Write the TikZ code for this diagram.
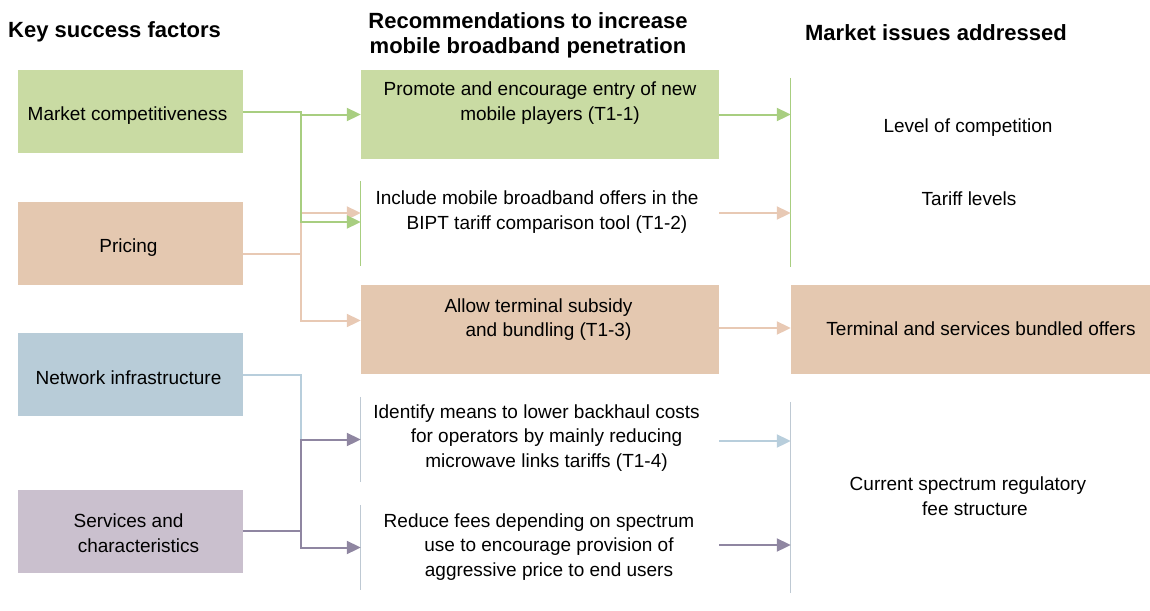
\documentclass[tikz,border=0pt]{standalone}
\usepackage{fontspec}
\setmainfont{Liberation Sans}
\usetikzlibrary{arrows.meta,positioning,calc}
\definecolor{kgreen}{RGB}{201,219,163}
\definecolor{kgreenline}{RGB}{168,206,128}
\definecolor{kpeach}{RGB}{228,200,176}
\definecolor{kpeachline}{RGB}{232,201,180}
\definecolor{kblue}{RGB}{184,204,216}
\definecolor{kblueline}{RGB}{184,206,220}
\definecolor{klilac}{RGB}{202,192,206}
\definecolor{kpurple}{RGB}{143,134,161}
\definecolor{kgray}{RGB}{190,201,211}
\newcommand{\contline}{\hspace*{20pt}}

\begin{document}
\begin{tikzpicture}[
    x=1pt, y=-1pt,
    every node/.style={font=\fontsize{19}{24.5}\selectfont, inner sep=0pt},
    heading/.style={font=\fontsize{22}{25}\selectfont\bfseries, align=center},
    factor/.style={rectangle, minimum width=225pt, minimum height=83pt},
    reco/.style={rectangle, minimum width=358pt, minimum height=85pt},
    boxtext/.style={align=center},
    issue/.style={rectangle, minimum width=359pt},
    link/.style={line width=2pt},
    arrow/.style={link, -{Triangle[length=14pt,width=13pt]}},
    sep/.style={line width=1.2pt}
]
\useasboundingbox (0,0) rectangle (1150,610);

% Titles
\node[heading, anchor=west] (hfactors) at (8,32) {Key success factors};
\node[heading] (hrecos) at (528,35) {Recommendations to increase\\mobile broadband penetration};
\node[heading] (hissues) at (936,33) {Market issues addressed};

% Key success factors
\node[factor, fill=kgreen] (mc) at (130.5,111.5) {};
\node (mct) at ([xshift=-3pt, yshift=-4.5pt]mc.center) {Market competitiveness};
\node[factor, fill=kpeach] (pr) at (130.5,243) {};
\node (prt) at ([xshift=-2pt, yshift=-4.5pt]pr.center) {Pricing};
\node[factor, fill=kblue] (ni) at (130.5,374.5) {};
\node (nit) at ([xshift=-2pt, yshift=-3pt]ni.center) {Network infrastructure};
\node[factor, fill=klilac] (sc) at (130.5,531) {};
\node[boxtext] (sct) at ([xshift=-2pt, yshift=-2pt]sc.center) {Services and\\\contline characteristics};

% Recommendations
\node[reco, fill=kgreen, minimum height=89pt] (t11) at (540,114.5) {};
\node[boxtext] (t11t) at ([yshift=11.5pt]t11.center) {Promote and encourage entry of new\\\contline mobile players (T1-1)};
\node[reco] (t12) at (540,223.5) {};
\node[boxtext] (t12t) at ([xshift=-3pt, yshift=11.5pt]t12.center) {Include mobile broadband offers in the\\\contline BIPT tariff comparison tool (T1-2)};
\node[reco, fill=kpeach, minimum height=89pt] (t13) at (540,329.5) {};
\node[boxtext] (t13t) at ([xshift=-1.5pt, yshift=10pt]t13.center) {Allow terminal subsidy\\\contline and bundling (T1-3)};
\node[reco] (t14) at (540,439.5) {};
\node[boxtext] (t14t) at ([xshift=-3.5pt, yshift=1.5pt]t14.center) {Identify means to lower backhaul costs\\\contline for operators by mainly reducing\\\contline microwave links tariffs (T1-4)};
\node[reco] (t15) at (540,547.5) {};
\node[boxtext] (t15t) at ([xshift=-1pt, yshift=0.5pt]t15.center) {Reduce fees depending on spectrum\\\contline use to encourage provision of\\\contline aggressive price to end users};

% Market issues
\node[issue, minimum height=189pt] (mi12) at (970.5,172.5) {};
\node (lc) at ([xshift=-2.5pt, yshift=44.5pt]mi12.center) {Level of competition};
\node (tl) at ([xshift=-1.5pt, yshift=-26.5pt]mi12.center) {Tariff levels};
\node[issue, fill=kpeach, minimum height=89pt] (tsb) at (970.5,329.5) {};
\node (tsbt) at ([xshift=10.5pt, yshift=0.5pt]tsb.center) {Terminal and services bundled offers};
\node[issue, minimum height=191pt] (csf) at (970.5,497.5) {};
\node[boxtext] (csft) at ([xshift=-2.5pt, yshift=1.5pt]csf.center) {Current spectrum regulatory\\\hspace*{14pt}fee structure};

% Side rules
\draw[sep, kgreenline] (t12.north west) -- (t12.south west);
\draw[sep, kgray] (t14.north west) -- (t14.south west);
\draw[sep, kgray] (t15.north west) -- (t15.south west);
\draw[sep, kgreenline] (mi12.north west) -- (mi12.south west);
\draw[sep, kgray] (csf.north west) -- (csf.south west);

% Factors to recommendations
\draw[link, kpeachline] ([yshift=-11pt]pr.east) -- ++(58,0) coordinate (pbus);
\draw[arrow, kpeachline] (pbus) |- ([yshift=10.5pt]t12.west);
\draw[arrow, kpeachline] (pbus) |- ([yshift=9pt]t13.west);
\draw[arrow, kgreenline] (mc.east) -- ++(58,0) coordinate (gbus) |- (t11.west);
\draw[arrow, kgreenline] (gbus) |- ([yshift=1.5pt]t12.west);
\draw[link, kblueline] (ni.east) -- ++(58,0) coordinate (bbus) -- (bbus |- sc.east);
\draw[link, kpurple] (sc.east) -- ++(58,0) coordinate (ubus);
\draw[arrow, kpurple] (ubus) |- (t14.west);
\draw[arrow, kpurple] (ubus) |- (t15.west);

% Recommendations to market issues
\draw[arrow, kgreenline] (t11.east) -- (t11.east -| mi12.west);
\draw[arrow, kpeachline] ([yshift=10.5pt]t12.east) -- ([yshift=10.5pt]t12.east -| mi12.west);
\draw[arrow, kpeachline] ([yshift=1.5pt]t13.east) -- ([yshift=1.5pt]t13.east -| tsb.west);
\draw[arrow, kblueline] ([yshift=-1.5pt]t14.east) -- ([yshift=-1.5pt]t14.east -| csf.west);
\draw[arrow, kpurple] ([yshift=2.5pt]t15.east) -- ([yshift=2.5pt]t15.east -| csf.west);

\end{tikzpicture}
\end{document}
